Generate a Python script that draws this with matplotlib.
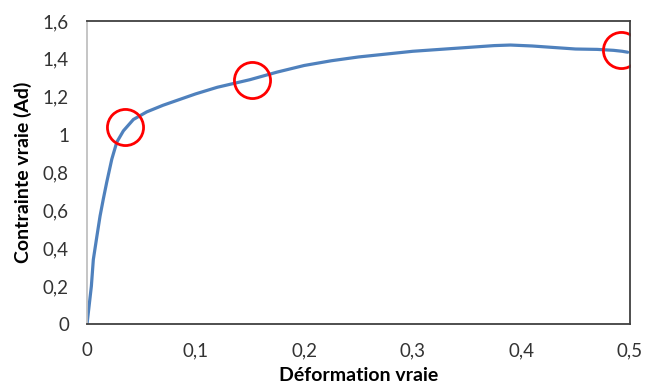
import matplotlib

matplotlib.use("Agg")
import matplotlib.pyplot as plt  # noqa: E402
from matplotlib.ticker import FuncFormatter  # noqa: E402

# Courbe contrainte / deformation
deformation = [0, 0.0012, 0.004, 0.0058, 0.009, 0.012, 0.015, 0.0182, 0.0228,
               0.0274, 0.0335, 0.0427, 0.055, 0.07, 0.085, 0.10, 0.12, 0.15,
               0.175, 0.2, 0.225, 0.25, 0.275, 0.3, 0.325, 0.35, 0.375, 0.39,
               0.41, 0.43, 0.45, 0.47, 0.485, 0.493, 0.498]
contrainte = [0, 0.06, 0.20, 0.34, 0.46, 0.57, 0.66, 0.75, 0.87,
              0.96, 1.02, 1.08, 1.12, 1.155, 1.185, 1.215, 1.25, 1.29,
              1.33, 1.365, 1.39, 1.41, 1.425, 1.44, 1.45, 1.46, 1.47, 1.473,
              1.468, 1.46, 1.452, 1.45, 1.445, 1.44, 1.435]

# Points entoures en rouge
cercles_x = [0.035, 0.152, 0.492]
cercles_y = [1.042, 1.288, 1.447]

x_ticks = [0, 0.1, 0.2, 0.3, 0.4, 0.5]
y_ticks = [0, 0.2, 0.4, 0.6, 0.8, 1.0, 1.2, 1.4, 1.6]

plt.rcParams["font.family"] = ["Lato", "DejaVu Sans"]

fig = plt.figure(figsize=(6.48, 3.85), dpi=100)
ax = fig.add_axes([0.1343, 0.1584, 0.8377, 0.7871])

ax.plot(deformation, contrainte, color="#4F81BD", lw=2.3, solid_capstyle="round")
ax.plot(cercles_x, cercles_y, ls="none", marker="o", ms=26, mfc="none",
        mec="#FF0000", mew=2)

ax.set_xlim(0, 0.5)
ax.set_ylim(0, 1.6)
ax.set_xticks(x_ticks)
ax.set_yticks(y_ticks)

fmt = FuncFormatter(lambda v, _: ("%g" % round(v, 2)).replace(".", ","))
ax.xaxis.set_major_formatter(fmt)
ax.yaxis.set_major_formatter(fmt)
ax.tick_params(length=0, labelsize=13.5, colors="#333333")
ax.tick_params(axis="x", pad=13)
ax.tick_params(axis="y", pad=13)

for side in ("top", "right", "bottom"):
    ax.spines[side].set_color("#404040")
    ax.spines[side].set_linewidth(1.3)
ax.spines["left"].set_color("#C0C0C0")
ax.spines["left"].set_linewidth(1.3)

ax.set_xlabel("Déformation vraie", fontsize=14, fontweight="bold", labelpad=6)
ax.set_ylabel("Contrainte vraie (Ad)", fontsize=14, fontweight="bold", labelpad=8)

fig.savefig("out.png", dpi=100)
plt.close(fig)
